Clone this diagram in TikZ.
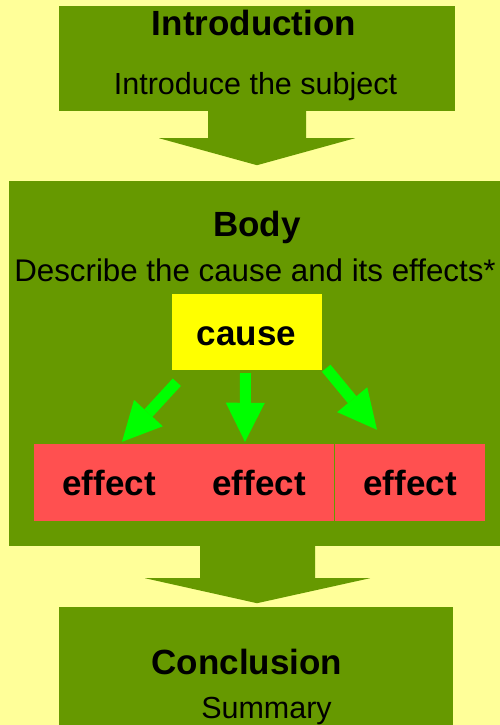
\documentclass[tikz,border=0pt]{standalone}
\usepackage{fontspec}
\setmainfont{Liberation Sans}
\usepackage{tikz}
\usetikzlibrary{
  arrows.meta,
  positioning,
}
\definecolor{pagebg}{HTML}{FFFF99}
\definecolor{stemgreen}{HTML}{669900}
\definecolor{causeyellow}{HTML}{FFFF00}
\definecolor{effectred}{HTML}{FF5050}
\definecolor{pointgreen}{HTML}{00FF00}

\begin{document}
\begin{tikzpicture}[
    x=1pt, y=-1pt,
    greenbox/.style={rectangle, fill=stemgreen, inner sep=0pt},
    causebox/.style={rectangle, fill=causeyellow, inner sep=0pt,
                     minimum width=150pt, minimum height=76pt},
    effectbox/.style={rectangle, fill=effectred, inner sep=0pt,
                      minimum width=150pt, minimum height=77pt,
                      font=\fontsize{35}{42}\selectfont\bfseries},
    titletext/.style={anchor=base, inner sep=0pt,
                      font=\fontsize{35}{42}\selectfont\bfseries},
    plaintext/.style={anchor=base, inner sep=0pt,
                      font=\fontsize{30.5}{36}\selectfont},
    pointer/.style={draw=pointgreen, line width=11pt,
                    -{Triangle[length=39pt, width=39pt, line width=0pt]}},
  ]
  \useasboundingbox (0,0) rectangle (500,725);
  \fill[pagebg] (0,0) rectangle (500,725);

  % introduction
  \node[greenbox, minimum width=396pt, minimum height=105pt] (intro) at (257,58.5) {};
  \node[titletext] (introtitle) at (254,36) {Introduction};
  \node[plaintext] (introline) at (255.5,94) {Introduce the subject};

  % body
  \node[greenbox, minimum width=491pt, minimum height=365pt] (body) at (254.5,363.5) {};
  \node[titletext] (bodytitle) at (257,236) {Body};
  \node[plaintext, font=\fontsize{31.3}{36}\selectfont] (bodyline) at (255,281)
    {Describe the cause and its effects*};

  \node[causebox] (cause) at (247,332) {};
  \node[titletext] (causetext) at (246.5,345) {cause};

  \node[effectbox] (effA) at (109,482.5) {effect};
  \node[effectbox] (effB) at (259,482.5) {effect};
  \node[effectbox] (effC) at (410,482.5) {effect};

  \draw[pointer] ([shift={(5pt,-12pt)}]cause.south west) -- ([shift={(13pt,2pt)}]effA.north);
  \draw[pointer] ([shift={(-1.5pt,-3pt)}]cause.south) -- ([shift={(-14pt,2pt)}]effB.north);
  \draw[pointer] ([shift={(4pt,2pt)}]cause.south east) -- ([shift={(-33pt,14pt)}]effC.north);

  % conclusion
  \node[greenbox, minimum width=394pt, minimum height=118pt] (concl) at (256,666) {};
  \node[titletext] (concltitle) at (247,674) {Conclusion};
  \node[plaintext] (conclline) at (266.5,718) {Summary};

  % block arrows between the parts
  \fill[stemgreen] ([shift={(-49pt,1pt)}]intro.south) -- ++(0,28) -- ++(-49,0)
    -- ++(98,27) -- ++(98,-27) -- ++(-49,0) -- ++(0,-28) -- cycle;
  \fill[stemgreen] ([shift={(-54.5pt,1pt)}]body.south) -- ++(0,33) -- ++(-55,0)
    -- ++(112,25) -- ++(113,-25) -- ++(-55,0) -- ++(0,-33) -- cycle;
\end{tikzpicture}
\end{document}
